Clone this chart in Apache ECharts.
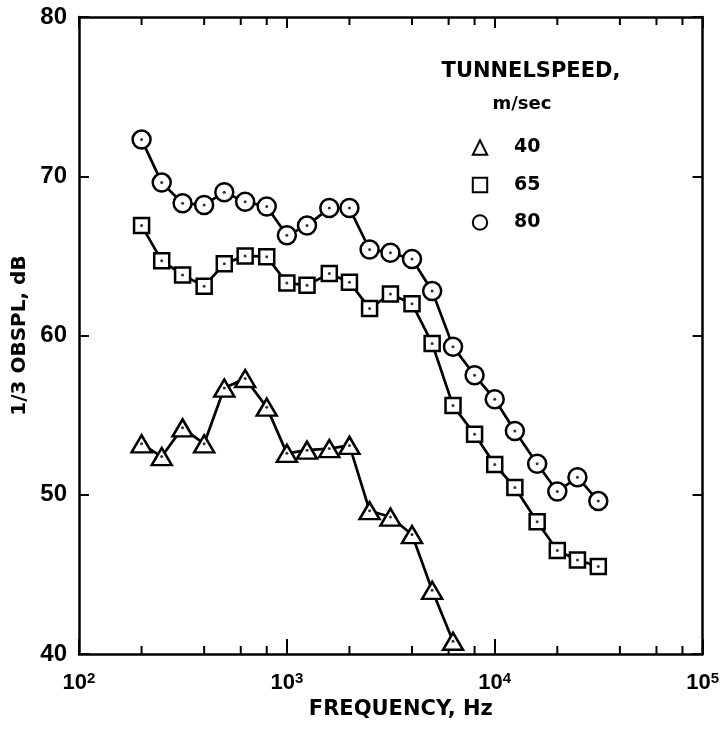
<!DOCTYPE html>
<html>
<head>
<meta charset="utf-8">
<script src="https://cdn.jsdelivr.net/npm/echarts@6/dist/echarts.min.js"></script>
<style>html,body{margin:0;padding:0;background:#fff;}#c{width:722px;height:729px;}</style>
</head>
<body>
<div id="c"></div>
<script>
// ---- data ----
const freq = [200,250,315,400,500,630,800,1000,1250,1600,2000,2500,3150,4000,5000,6300,8000,10000,12500,16000,20000,25000,31500];
const spl80 = [72.3,69.6,68.3,68.2,69.0,68.4,68.1,66.3,66.9,68.0,68.0,65.4,65.2,64.8,62.8,59.3,57.5,56.0,54.0,51.95,50.2,51.1,49.6];
const spl65 = [66.9,64.7,63.8,63.1,64.5,65.0,64.95,63.3,63.15,63.9,63.35,61.7,62.6,62.0,59.5,55.6,53.8,51.9,50.45,48.3,46.5,45.9,45.5];
const freq40 = [200,250,315,400,500,630,800,1000,1250,1600,2000,2500,3150,4000,5000,6300];
const spl40 = [53.2,52.4,54.2,53.2,56.7,57.3,55.5,52.6,52.8,52.9,53.1,49.0,48.6,47.5,44.0,40.8];
const speedNames = ['40','65','80'];
const minorTickValues = [200,400,600,800,2000,4000,6000,8000,20000,40000,60000,80000];
const xMin = 100, xMax = 100000, yMin = 40, yMax = 80, yStep = 10;
const xTitle = 'FREQUENCY, Hz';
const yTitle = '1/3 OBSPL, dB';
const legendTitle1 = 'TUNNELSPEED,';
const legendTitle2 = 'm/sec';

function pairs(xs, ys){ return xs.map((x,i)=>[x, ys[i]]); }

const chart = echarts.init(document.getElementById('c'), null, {renderer:'canvas'});
const black = '#000';
const markerStyle = {color:'#fff', borderColor:black, borderWidth:2.5};
function lineSeries(name, data, symbol, size){
  return {
    name, type:'line', data, symbol, symbolSize:size, showSymbol:true,
    lineStyle:{color:black, width:2.7}, itemStyle:markerStyle,
    emphasis:{disabled:true}, silent:true, z:3
  };
}
function dotSeries(data){
  return {type:'scatter', data, symbol:'circle', symbolSize:3, itemStyle:{color:black}, silent:true, z:6, emphasis:{disabled:true}};
}

const option = {
  animation:false,
  backgroundColor:'#fff',
  grid:{left:79, right:18, top:17, bottom:75, containLabel:false},
  xAxis:[
    {type:'log', logBase:10, min:xMin, max:xMax, position:'bottom',
     name:xTitle, nameLocation:'middle', nameGap:35,
     nameTextStyle:{fontFamily:'DejaVu Sans', fontWeight:'bold', fontSize:21, color:black, padding:[0,0,0,20]},
     axisLine:{show:true, lineStyle:{color:black, width:2.5}},
     axisTick:{show:true, inside:true, length:15, lineStyle:{color:black, width:2}},
     splitLine:{show:false}, minorTick:{show:false},
     axisLabel:{show:true, margin:17, color:black,
       formatter:function(v){ return '{b|10}{s|' + Math.round(Math.log10(v)) + '}'; },
       rich:{
         b:{fontFamily:'Liberation Sans', fontWeight:'bold', fontSize:22, lineHeight:24, color:black},
         s:{fontFamily:'Liberation Sans', fontWeight:'bold', fontSize:15, lineHeight:15, verticalAlign:'top', color:black}
       }}
    },
    {type:'log', logBase:10, min:xMin, max:xMax, position:'top',
     axisLine:{show:true, lineStyle:{color:black, width:2.5}},
     axisTick:{show:true, inside:true, length:11, lineStyle:{color:black, width:2}},
     axisLabel:{show:false}, splitLine:{show:false}}
  ],
  yAxis:[
    {type:'value', min:yMin, max:yMax, interval:yStep, position:'left',
     name:yTitle, nameLocation:'middle', nameGap:48,
     nameTextStyle:{fontFamily:'DejaVu Sans', fontWeight:'bold', fontSize:20, color:black},
     axisLine:{show:true, lineStyle:{color:black, width:2.5}},
     axisTick:{show:true, inside:true, length:10, lineStyle:{color:black, width:2}},
     splitLine:{show:false},
     axisLabel:{margin:12, color:black, fontFamily:'Liberation Sans', fontWeight:'bold', fontSize:24}},
    {type:'value', min:yMin, max:yMax, interval:yStep, position:'right',
     axisLine:{show:true, lineStyle:{color:black, width:2.5}},
     axisTick:{show:true, inside:true, length:10, lineStyle:{color:black, width:2}},
     splitLine:{show:false}, axisLabel:{show:false}}
  ],
  legend:{
    data:speedNames, orient:'vertical', left:446, top:133,
    itemWidth:58, itemHeight:18, itemGap:18.5,
    selectedMode:false,
    lineStyle:{width:0, opacity:0},
    itemStyle:{borderWidth:2},
    textStyle:{fontFamily:'DejaVu Sans', fontWeight:'bold', fontSize:19, lineHeight:18, color:black}
  },
  graphic:[
    {type:'text', x:531, y:72, style:{text:legendTitle1, align:'center', verticalAlign:'middle', font:'bold 21px "DejaVu Sans"', fill:black}},
    {type:'text', x:522, y:104, style:{text:legendTitle2, align:'center', verticalAlign:'middle', font:'bold 18px "DejaVu Sans"', fill:black}}
  ],
  series:[
    {type:'custom', coordinateSystem:'cartesian2d', xAxisIndex:0, yAxisIndex:0,
     data:minorTickValues.map(v=>[v, yMin]), encode:{x:0, y:1}, clip:false, silent:true, z:1,
     renderItem:function(params, api){
       const v = api.value(0);
       const b = api.coord([v, yMin]);
       const t = api.coord([v, yMax]);
       return {type:'group', children:[
         {type:'line', shape:{x1:b[0], y1:b[1], x2:b[0], y2:b[1]-8}, style:{stroke:black, lineWidth:2}},
         {type:'line', shape:{x1:t[0], y1:t[1], x2:t[0], y2:t[1]+8}, style:{stroke:black, lineWidth:2}}
       ]};
     }},
    lineSeries(speedNames[0], pairs(freq40, spl40), 'triangle', [20,17]),
    lineSeries(speedNames[1], pairs(freq, spl65), 'rect', 15),
    lineSeries(speedNames[2], pairs(freq, spl80), 'circle', 18),
    dotSeries(pairs(freq40, spl40)),
    dotSeries(pairs(freq, spl65)),
    dotSeries(pairs(freq, spl80))
  ]
};
chart.setOption(option);
</script>
</body>
</html>
